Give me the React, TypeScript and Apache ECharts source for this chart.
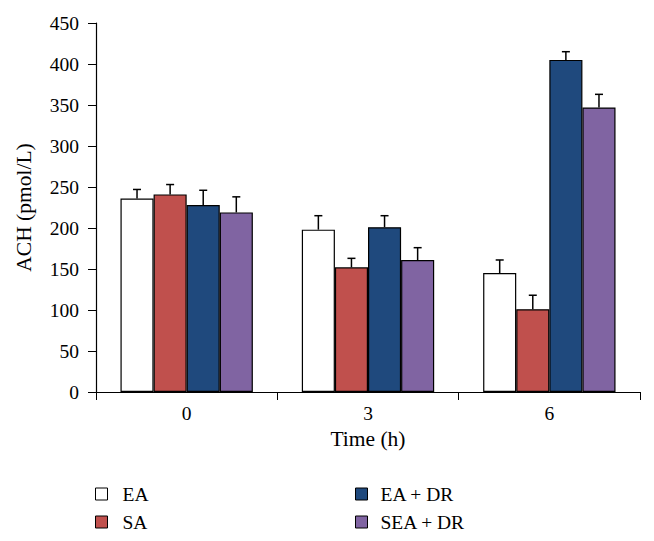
import React, { useEffect, useRef } from "react";
import * as echarts from "echarts";

const categories = ["0", "3", "6"];
const seriesNames = ["EA", "SA", "EA + DR", "SEA + DR"];
const seriesColors = ["#ffffff", "#c0504d", "#1f497d", "#8064a2"];
const eaValues = [236, 198, 145];
const saValues = [241, 152, 101];
const eaDrValues = [228, 201, 405];
const seaDrValues = [219, 161, 347];
const eaErr = [11, 17, 16];
const saErr = [12, 11, 17];
const eaDrErr = [18, 14, 10];
const seaDrErr = [19, 15, 16];

const values = [eaValues, saValues, eaDrValues, seaDrValues];
const errors = [eaErr, saErr, eaDrErr, seaDrErr];

const FONT = "'Liberation Serif', 'DejaVu Serif', serif";
const CAT_GAP = 0.27;

export default function App() {
  const ref = useRef<HTMLDivElement>(null);
  useEffect(() => {
    if (!ref.current) return;
    const chart = echarts.init(ref.current, undefined, { renderer: "svg" });
    const barSeries = seriesNames.map((name, i) => ({
      name,
      type: "bar",
      data: values[i],
      barGap: "0%",
      barCategoryGap: CAT_GAP * 100 + "%",
      itemStyle: { color: seriesColors[i], borderColor: "#000", borderWidth: 1.2 },
      z: 2,
    }));
    const errSeries = seriesNames.map((name, i) => ({
      name: name + " err",
      type: "custom",
      z: 3,
      data: categories.map((_, j) => [j, values[i][j], values[i][j] + errors[i][j]]),
      renderItem: (params: any, api: any) => {
        const idx = api.value(0);
        const top = api.coord([idx, api.value(2)]);
        const base = api.coord([idx, api.value(1)]);
        const band = api.size([1, 0])[0];
        const bw = (band * (1 - CAT_GAP)) / 4;
        const x = base[0] - (bw * 4) / 2 + (i + 0.5) * bw;
        const cap = 4;
        return {
          type: "group",
          children: [
            { type: "line", shape: { x1: x, y1: base[1], x2: x, y2: top[1] }, style: { stroke: "#000", lineWidth: 1.5 } },
            { type: "line", shape: { x1: x - cap, y1: top[1], x2: x + cap, y2: top[1] }, style: { stroke: "#000", lineWidth: 1.5 } },
          ],
        };
      },
    }));
    const legendCommon = {
      orient: "vertical",
      icon: "rect",
      padding: 0,
      itemWidth: 12,
      itemHeight: 12,
      itemGap: 8,
      itemStyle: { borderColor: "#000", borderWidth: 1 },
    };
    chart.setOption({
      animation: false,
      grid: { left: 96, top: 23, right: 14, bottom: 149, containLabel: false },
      legend: [
        {
          ...legendCommon,
          left: 95,
          top: 484,
          data: ["EA", "SA"],
          textStyle: { fontFamily: FONT, fontSize: 19.5, color: "#000", padding: [0, 0, 0, 10] },
        },
        {
          ...legendCommon,
          left: 355,
          top: 484,
          data: ["EA + DR", "SEA + DR"],
          textStyle: { fontFamily: FONT, fontSize: 19.5, color: "#000", padding: [0, 0, 0, 8] },
        },
      ],
      xAxis: {
        type: "category",
        data: categories,
        name: "Time (h)",
        nameLocation: "middle",
        nameGap: 35,
        nameTextStyle: { fontFamily: FONT, fontSize: 21.5, color: "#000" },
        axisLine: { lineStyle: { color: "#000", width: 1.2 } },
        axisTick: { show: true, length: 8, lineStyle: { color: "#000" } },
        axisLabel: { fontFamily: FONT, fontSize: 19.5, color: "#000", margin: 11 },
      },
      yAxis: {
        type: "value",
        min: 0,
        max: 450,
        interval: 50,
        name: "ACH (pmol/L)",
        nameLocation: "middle",
        nameGap: 61,
        nameTextStyle: { fontFamily: FONT, fontSize: 21.5, color: "#000" },
        axisLine: { show: true, lineStyle: { color: "#000", width: 1.2 } },
        axisTick: { show: true, length: 8, lineStyle: { color: "#000" } },
        axisLabel: { fontFamily: FONT, fontSize: 19.5, color: "#000", margin: 17 },
        splitLine: { show: false },
      },
      series: [...barSeries, ...errSeries],
    });
    return () => chart.dispose();
  }, []);
  return <div ref={ref} style={{ width: 654, height: 541, margin: -8, background: "#fff" }} />;
}
